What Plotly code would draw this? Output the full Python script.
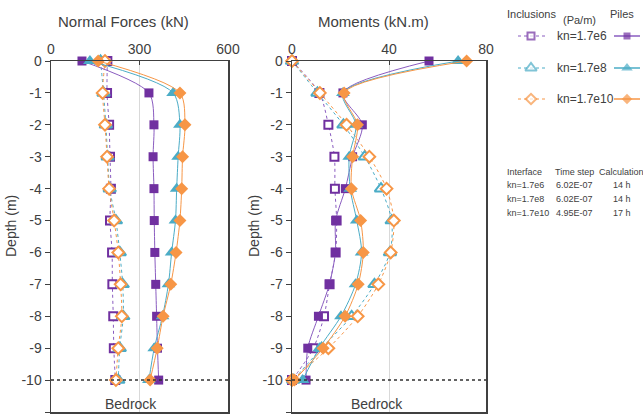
import plotly.graph_objects as go

# ---------------- data ----------------
depth = [0, -1, -2, -3, -4, -5, -6, -7, -8, -9, -10]
depth_ticks = [0, -1, -2, -3, -4, -5, -6, -7, -8, -9, -10, -11]
depth_ticktext = ["0", "-1", "-2", "-3", "-4", "-5", "-6", "-7", "-8", "-9", "-10", "-11"]

nf_ticks = [0, 300, 600]
mo_ticks = [0, 40, 80]

series_names = ["kn=1.7e6", "kn=1.7e8", "kn=1.7e10"]

# Normal forces (kN)
nf_incl_6 = [191, 190, 197, 200, 203, 200, 207, 208, 211, 213, 218]
nf_incl_8 = [168, 178, 186, 192, 199, 220, 233, 243, 245, 233, 228]
nf_incl_10 = [183, 175, 183, 190, 197, 214, 228, 236, 240, 228, 220]
nf_pile_6 = [105, 332, 349, 346, 349, 350, 352, 355, 358, 361, 365]
nf_pile_8 = [132, 414, 437, 431, 426, 422, 409, 398, 378, 350, 332]
nf_pile_10 = [160, 437, 454, 446, 443, 437, 424, 406, 380, 360, 336]

# Moments (kN.m)
mo_incl_6 = [0, 11.3, 15, 17.5, 17.7, 18.4, 18, 15.5, 13.2, 8.8, 0]
mo_incl_8 = [0, 10.5, 21.2, 30, 36.7, 41.1, 40.4, 34, 24.6, 12.2, 0.5]
mo_incl_10 = [0, 11.5, 22.5, 31.9, 39, 42, 40.7, 35.6, 27.1, 15, 0]
mo_pile_6 = [56.5, 21, 29, 25, 22, 18, 17.9, 15.4, 10.9, 6.5, 5.8]
mo_pile_8 = [68.5, 21, 26.4, 23.6, 24, 26.7, 28.7, 26.2, 20.2, 11.3, 4.4]
mo_pile_10 = [72, 21.5, 27, 25, 24.5, 28.3, 29.4, 27.3, 21.9, 12.8, 1]

table_header = ["Interface", "Time step", "Calculation"]
table_time = ["6.02E-07", "6.02E-07", "4.95E-07"]
table_calc = ["14 h", "14 h", "17 h"]

# ---------------- styles ----------------
W, H = 643, 419
PURPLE = "#7030A0"
TEAL = "#4BACC6"
ORANGE = "#F79646"
TXT = "#404040"
FONT = "Liberation Sans, Arial, sans-serif"
NARROW = "Liberation Sans Narrow, Arial Narrow, Liberation Sans, sans-serif"

colors = [PURPLE, TEAL, ORANGE]
line_colors = ["#8A5CC0", TEAL, ORANGE]
symbols = ["square", "triangle-up", "diamond"]
sizes = [9, 12, 10]

fig = go.Figure()


def add_series(x, xa, ya, i, hollow):
    if hollow:
        marker = dict(symbol=symbols[i], size=sizes[i] - 1, color="white",
                      line=dict(color=colors[i], width=2))
        line = dict(color=line_colors[i], width=1, dash="dot", shape="spline", smoothing=0.8)
    else:
        marker = dict(symbol=symbols[i], size=sizes[i], color=colors[i],
                      line=dict(width=0))
        line = dict(color=line_colors[i], width=1, shape="spline", smoothing=0.8)
    fig.add_trace(go.Scatter(x=x, y=depth, xaxis=xa, yaxis=ya, mode="lines+markers",
                             marker=marker, line=line, showlegend=False,
                             cliponaxis=False))


nf_incl = [nf_incl_6, nf_incl_8, nf_incl_10]
nf_pile = [nf_pile_6, nf_pile_8, nf_pile_10]
mo_incl = [mo_incl_6, mo_incl_8, mo_incl_10]
mo_pile = [mo_pile_6, mo_pile_8, mo_pile_10]

for i in range(3):
    add_series(nf_incl[i], "x", "y", i, True)
for i in range(3):
    add_series(nf_pile[i], "x", "y", i, False)
for i in range(3):
    add_series(mo_incl[i], "x2", "y2", i, True)
for i in range(3):
    add_series(mo_pile[i], "x2", "y2", i, False)

# ---------------- legend (small pixel axis in the legend corner) ----------------
LX0, LY1 = 500, 120
leg_rows = [36, 68, 99]
for i in range(3):
    yy = leg_rows[i]
    fig.add_trace(go.Scatter(x=[518, 531, 545], y=[yy, yy, yy], xaxis="x3", yaxis="y3",
                             mode="lines+markers",
                             line=dict(color=line_colors[i], width=1, dash="dot"),
                             marker=dict(symbol=symbols[i], size=[0, sizes[i] - 2, 0],
                                         color="white", line=dict(color=colors[i], width=2)),
                             showlegend=False, hoverinfo="skip", cliponaxis=False))
    fig.add_trace(go.Scatter(x=[614, 627, 640], y=[yy, yy, yy], xaxis="x3", yaxis="y3",
                             mode="lines+markers",
                             line=dict(color=line_colors[i], width=1.5),
                             marker=dict(symbol=symbols[i], size=[0, sizes[i] - 2, 0],
                                         color=colors[i], line=dict(width=0)),
                             showlegend=False, hoverinfo="skip", cliponaxis=False))

annotations = []


def ann(text, x, y, size=14, xanchor="center", font=FONT, angle=0, color=TXT):
    annotations.append(dict(text=text, x=x / W, y=1 - y / H, xref="paper", yref="paper",
                            xanchor=xanchor, yanchor="middle", showarrow=False,
                            textangle=angle, font=dict(family=font, size=size, color=color)))


ann("Normal Forces (kN)", 124, 22, size=15)
ann("Moments (kN.m)", 373, 22, size=15)
ann("Depth (m)", 11, 226, size=14, angle=-90)
ann("Depth (m)", 254, 226, size=14, angle=-90)
ann("Bedrock", 131, 404, size=14)
ann("Bedrock", 377, 404, size=14)

ann("Inclusions", 531, 14, size=11)
ann("(Pa/m)", 579, 20, size=11)
ann("Piles", 622, 14, size=11)
for i in range(3):
    ann(series_names[i], 555, leg_rows[i], size=12, xanchor="left")

ann(table_header[0], 505, 172, size=9, xanchor="left", font=NARROW)
ann(table_header[1], 553, 172, size=9, xanchor="left", font=NARROW)
ann(table_header[2], 597, 172, size=9, xanchor="left", font=NARROW)
for i, yy in enumerate([185, 199, 213]):
    ann(series_names[i], 505, yy, size=9, xanchor="left", font=NARROW)
    ann(table_time[i], 554, yy, size=9, xanchor="left", font=NARROW)
    ann(table_calc[i], 611, yy, size=9, xanchor="left", font=NARROW)

# ---------------- axes ----------------
ydom = [7 / H, 358 / H]


def xax(dom, rng, ticks, anchor):
    return dict(domain=dom, range=rng, side="top", tickvals=ticks, ticks="inside",
                ticklen=4, tickcolor=TXT, showline=True, linecolor=TXT, linewidth=1.5,
                mirror=True, showgrid=True, gridcolor="#D9D9D9", gridwidth=1,
                zeroline=False, tickfont=dict(family=FONT, size=14, color=TXT),
                fixedrange=True, automargin=False, anchor=anchor)


def yax(anchor):
    return dict(domain=ydom, range=[-11, 0], tickvals=depth_ticks, ticktext=depth_ticktext,
                ticks="outside", ticklen=5, tickcolor=TXT, showline=True, linecolor=TXT,
                linewidth=1.5, mirror=True, showgrid=False, zeroline=False, anchor=anchor,
                tickfont=dict(family=FONT, size=14, color=TXT), fixedrange=True,
                automargin=False)


shapes = []
for xr, yr in [("x", "y"), ("x2", "y2")]:
    shapes.append(dict(type="line", xref=xr + " domain", yref=yr, x0=0, x1=1, y0=-10, y1=-10,
                       line=dict(color="#303030", width=1.5, dash="dot")))

fig.update_layout(
    width=W, height=H,
    margin=dict(l=0, r=0, t=0, b=0, pad=0, autoexpand=False),
    paper_bgcolor="white", plot_bgcolor="rgba(0,0,0,0)",
    showlegend=False,
    hovermode=False,
    xaxis=xax([51 / W, 228 / W], [0, 600], nf_ticks, "y"),
    yaxis=yax("x"),
    xaxis2=xax([292 / W, 486 / W], [0, 80], mo_ticks, "y2"),
    yaxis2=yax("x2"),
    xaxis3=dict(domain=[LX0 / W, 1], range=[LX0, W], visible=False, fixedrange=True,
                anchor="y3", automargin=False),
    yaxis3=dict(domain=[1 - LY1 / H, 1], range=[LY1, 0], visible=False, fixedrange=True,
                anchor="x3", automargin=False),
    annotations=annotations,
    shapes=shapes,
)

fig.write_html("out.html", config={"displayModeBar": False, "staticPlot": True},
               post_script="document.body.style.margin='0';document.body.style.overflow='hidden';")
